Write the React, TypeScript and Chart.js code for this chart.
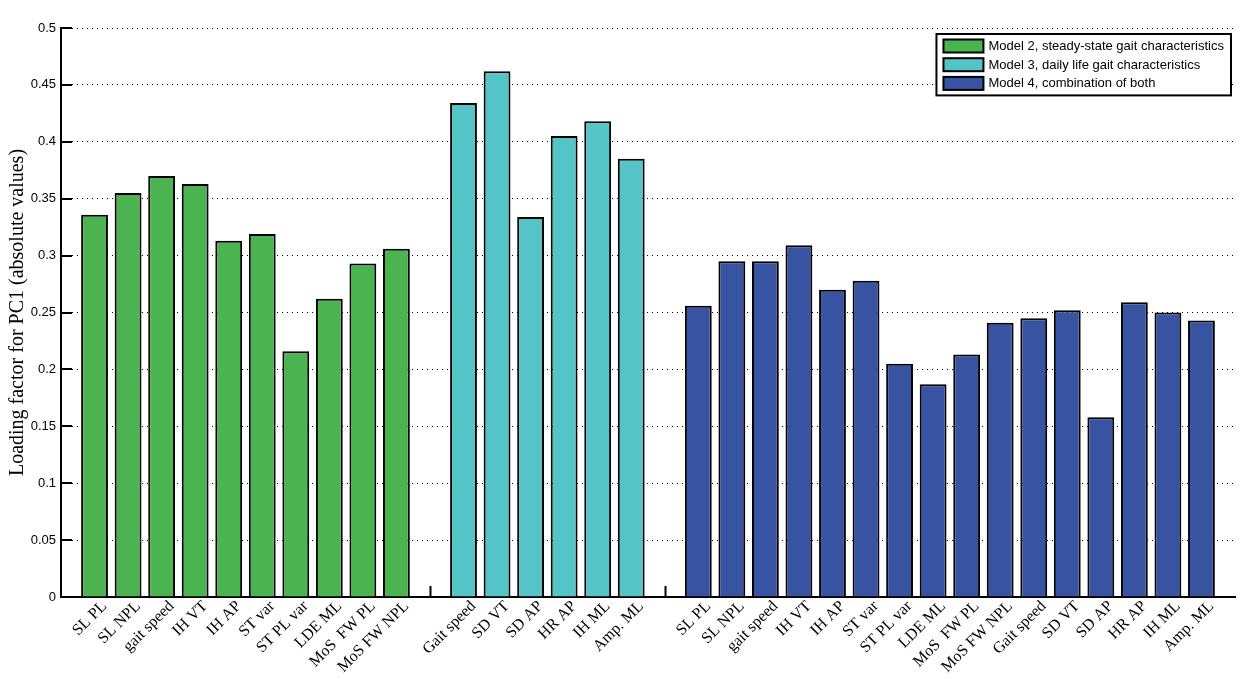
import React, { useEffect, useRef } from "react";
import { Chart, registerables } from "chart.js";

Chart.register(...registerables);

// ---- data ----
const model2Labels = ["SL PL", "SL NPL", "gait speed", "IH VT", "IH AP", "ST var", "ST PL var", "LDE ML", "MoS  FW PL", "MoS FW NPL"];
const model2Values = [0.336, 0.355, 0.370, 0.363, 0.313, 0.319, 0.216, 0.262, 0.293, 0.306];

const model3Labels = ["Gait speed", "SD VT", "SD AP", "HR AP", "IH ML", "Amp. ML"];
const model3Values = [0.434, 0.462, 0.334, 0.405, 0.418, 0.385];

const model4Labels = ["SL PL", "SL NPL", "gait speed", "IH VT", "IH AP", "ST var", "ST PL var", "LDE ML", "MoS  FW PL", "MoS FW NPL", "Gait speed", "SD VT", "SD AP", "HR AP", "IH ML", "Amp. ML"];
const model4Values = [0.256, 0.295, 0.295, 0.309, 0.270, 0.278, 0.205, 0.187, 0.213, 0.241, 0.245, 0.252, 0.158, 0.259, 0.250, 0.243];

const seriesNames = [
  "Model 2, steady-state gait characteristics",
  "Model 3, daily life gait characteristics",
  "Model 4, combination of both",
];
const seriesColors = ["#4BB34F", "#54C4C6", "#3953A3"];

const yMin = 0;
const yMax = 0.5;
const yStep = 0.05;
const yTitle = "Loading factor for PC1 (absolute values)";

// Category positions: an empty slot at both ends and between the groups
const groups = [model2Labels, model3Labels, model4Labels];
const groupValues = [model2Values, model3Values, model4Values];

function buildLabels(): string[] {
  const out: string[] = [""];
  groups.forEach((g) => {
    g.forEach((l) => out.push(l));
    out.push("");
  });
  return out;
}

function buildSeries(index: number): (number | null)[] {
  const out: (number | null)[] = [null];
  groupValues.forEach((vals, gi) => {
    vals.forEach((v) => out.push(gi === index ? v : null));
    out.push(null);
  });
  return out;
}

const innerTicksPlugin = {
  id: "innerTicks",
  beforeDatasetsDraw(chart: any) {
    const { ctx } = chart;
    const xs = chart.scales.x;
    const ys = chart.scales.y;
    const n = chart.data.labels.length;
    ctx.save();
    ctx.strokeStyle = "#000";
    ctx.lineWidth = 2;
    ctx.beginPath();
    for (let i = 1; i < n - 1; i++) {
      const px = Math.round(xs.getPixelForValue(i)) + 0.5;
      ctx.moveTo(px, ys.bottom);
      ctx.lineTo(px, ys.bottom - 11);
    }
    ys.ticks.forEach((t: any) => {
      const py = Math.round(ys.getPixelForValue(t.value));
      ctx.moveTo(xs.left, py);
      ctx.lineTo(xs.left + 11, py);
    });
    ctx.stroke();
    ctx.restore();
  },
};

const boxLegendPlugin = {
  id: "boxLegend",
  afterDraw(chart: any) {
    const { ctx, chartArea } = chart;
    const ds = chart.data.datasets;
    ctx.save();
    ctx.font = "13px 'Liberation Sans', Arial, sans-serif";
    const textW = Math.max(...ds.map((d: any) => ctx.measureText(d.label).width));
    const padL = 7, swW = 40, swH = 13, gap = 5, padR = 7, rowH = 18.7, firstRow = 12;
    const w = padL + swW + gap + textW + padR;
    const h = firstRow + rowH * (ds.length - 1) + 12;
    const right = chartArea.right - 4;
    const top = chartArea.top + 6;
    const left = right - w;
    ctx.fillStyle = "#fff";
    ctx.fillRect(left, top, w, h);
    ctx.lineWidth = 2;
    ctx.strokeStyle = "#000";
    ctx.strokeRect(left, top, w, h);
    ds.forEach((d: any, i: number) => {
      const cy = top + firstRow + rowH * i;
      ctx.fillStyle = d.backgroundColor;
      ctx.fillRect(left + padL, cy - swH / 2, swW, swH);
      ctx.lineWidth = 2;
      ctx.strokeStyle = "#000";
      ctx.strokeRect(left + padL, cy - swH / 2, swW, swH);
      ctx.fillStyle = "#000";
      ctx.textBaseline = "middle";
      ctx.textAlign = "left";
      ctx.fillText(d.label, left + padL + swW + gap, cy + 0.5);
    });
    ctx.restore();
  },
};

export default function App() {
  const canvasRef = useRef<HTMLCanvasElement | null>(null);

  useEffect(() => {
    if (!canvasRef.current) return;
    const labels = buildLabels();
    const chart = new Chart(canvasRef.current, {
      type: "bar",
      data: {
        labels,
        datasets: seriesNames.map((name, i) => ({
          label: name,
          data: buildSeries(i),
          backgroundColor: seriesColors[i],
          borderColor: "#000",
          borderWidth: 2,
          borderSkipped: "start" as const,
          grouped: false,
          categoryPercentage: 1,
          barPercentage: 0.8,
        })),
      },
      options: {
        animation: false,
        responsive: false,
        maintainAspectRatio: false,
        layout: { padding: { left: 0, right: 10, top: 28, bottom: 0 } },
        plugins: {
          legend: { display: false },
          tooltip: { enabled: false },
        },
        scales: {
          x: {
            type: "category",
            offset: false,
            grid: { display: false, drawTicks: false },
            border: { display: true, color: "#000", width: 2 },
            ticks: {
              autoSkip: false,
              maxRotation: 45,
              minRotation: 45,
              padding: 0,
              labelOffset: 10,
              color: "#000",
              font: { family: "'Liberation Serif', 'Times New Roman', serif", size: 16 },
            },
            afterFit: (s: any) => {
              s.height = 82;
              s.paddingLeft = 0;
              s.paddingRight = 0;
            },
          },
          y: {
            min: yMin,
            max: yMax,
            grid: { color: "#000", lineWidth: 1, drawTicks: false },
            border: { display: true, color: "#000", width: 2, dash: [1, 4] },
            ticks: {
              stepSize: yStep,
              padding: 5,
              color: "#000",
              font: { family: "'Liberation Sans', Arial, sans-serif", size: 13 },
              callback: (v: any) => String(Number(Number(v).toFixed(2))),
            },
            title: {
              display: true,
              text: yTitle,
              color: "#000",
              font: { family: "'Liberation Serif', 'Times New Roman', serif", size: 20 },
              padding: { top: 6, bottom: 0 },
            },
            afterFit: (s: any) => {
              s.width = 61;
            },
          },
        },
      },
      plugins: [innerTicksPlugin, boxLegendPlugin],
    });
    return () => chart.destroy();
  }, []);

  return (
    <div style={{ position: "fixed", left: 0, top: 0, width: 1245, height: 679, background: "#fff" }}>
      <canvas ref={canvasRef} width={1245} height={679} style={{ display: "block" }} />
    </div>
  );
}
